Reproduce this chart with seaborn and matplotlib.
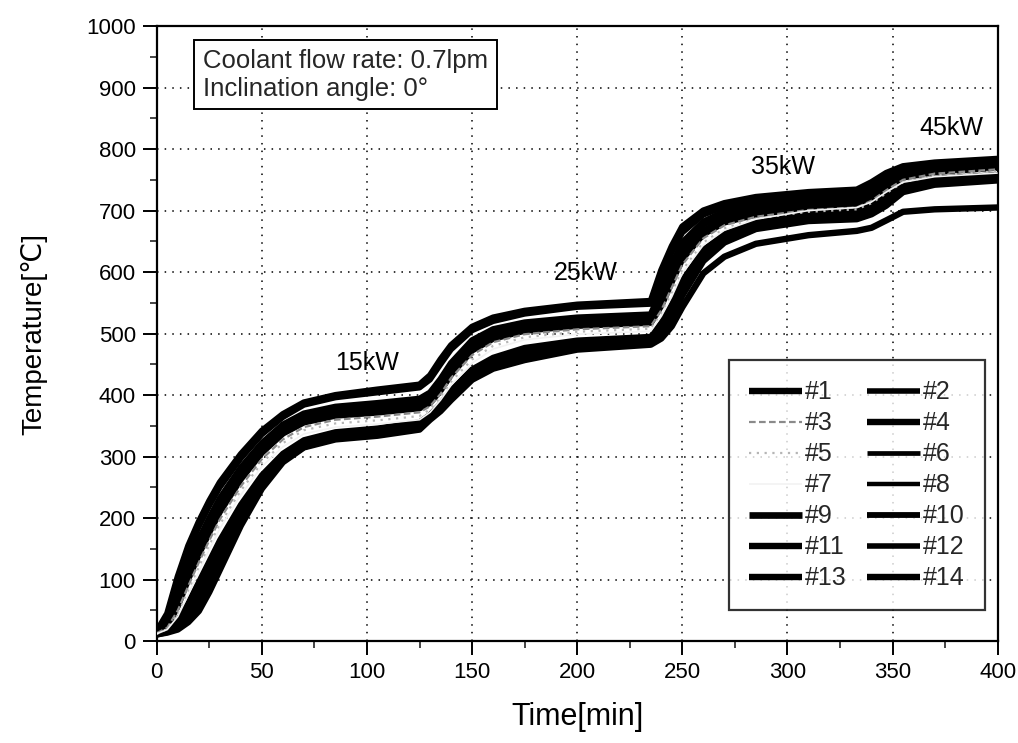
import numpy as np
import pandas as pd
import matplotlib
matplotlib.use("Agg")
import matplotlib.pyplot as plt
import seaborn as sns

# ---------------- data ----------------
time_min = [0, 5, 10, 15, 20, 25, 30, 40, 50, 60, 70, 85, 105,
            125, 130, 135, 140, 150, 160, 175, 200, 235,
            240, 245, 250, 260, 270, 285, 310, 333,
            340, 347, 355, 370, 400]

sensor_names = ["#1", "#2", "#3", "#4", "#5", "#6", "#7",
                "#8", "#9", "#10", "#11", "#12", "#13", "#14"]

t01 = [16, 45, 105, 155, 194, 228, 258, 304, 342, 369, 388, 400, 409,
       417, 432, 458, 481, 511, 526, 537, 547, 553,
       603, 642, 674, 700, 712, 722, 730, 734, 746, 761, 772, 778, 784]
t02 = [15, 40, 95, 145, 186, 220, 250, 297, 336, 364, 384, 396, 404,
       412, 425, 450, 474, 505, 520, 532, 543, 548,
       590, 632, 664, 693, 706, 716, 725, 729, 742, 757, 769, 776, 782]
t03 = [13, 22, 50, 90, 128, 164, 198, 252, 296, 328, 348, 360, 365,
       372, 382, 402, 428, 465, 486, 499, 507, 512,
       538, 575, 612, 655, 676, 690, 701, 705, 716, 733, 750, 760, 767]
t04 = [14, 32, 78, 125, 165, 200, 232, 282, 322, 352, 370, 381, 387,
       394, 404, 426, 452, 489, 507, 518, 526, 531,
       570, 612, 648, 682, 698, 709, 718, 722, 735, 752, 766, 773, 779]
t05 = [12, 20, 44, 82, 120, 156, 190, 245, 290, 322, 343, 354, 359,
       366, 377, 397, 422, 458, 480, 494, 503, 508,
       532, 566, 603, 648, 671, 687, 698, 702, 712, 728, 746, 757, 764]
t06 = [14, 30, 72, 118, 158, 194, 226, 277, 318, 348, 366, 377, 382,
       389, 398, 420, 446, 484, 502, 514, 521, 526,
       562, 604, 640, 676, 693, 704, 713, 717, 730, 748, 762, 770, 776]
t07 = [12, 19, 40, 76, 113, 149, 183, 238, 284, 316, 337, 348, 353,
       360, 372, 392, 416, 452, 475, 490, 499, 504,
       528, 560, 598, 644, 668, 686, 700, 705, 714, 730, 746, 755, 761]
t08 = [13, 27, 65, 110, 150, 186, 218, 270, 312, 343, 361, 372, 377,
       384, 393, 414, 440, 479, 497, 510, 517, 522,
       553, 594, 631, 669, 687, 699, 708, 712, 725, 743, 758, 767, 773]
t09 = [13, 25, 58, 102, 142, 178, 211, 264, 307, 338, 356, 367, 372,
       379, 388, 408, 434, 473, 492, 505, 513, 518,
       546, 585, 622, 662, 681, 694, 704, 708, 720, 738, 754, 763, 770]
t10 = [12, 18, 34, 62, 96, 130, 164, 222, 270, 305, 327, 340, 346,
       356, 368, 386, 408, 442, 461, 477, 489, 495,
       518, 548, 586, 636, 662, 681, 694, 699, 708, 724, 742, 752, 758]
t11 = [12, 17, 30, 54, 85, 118, 152, 212, 262, 299, 322, 336, 342,
       352, 366, 383, 404, 438, 457, 474, 485, 492,
       512, 540, 578, 630, 657, 677, 690, 694, 703, 718, 738, 748, 755]
t12 = [12, 16, 26, 46, 74, 106, 140, 203, 256, 295, 318, 332, 339,
       349, 364, 380, 400, 434, 453, 470, 481, 489,
       506, 532, 570, 624, 652, 673, 686, 690, 698, 713, 734, 745, 752]
t13 = [11, 15, 23, 40, 62, 94, 128, 196, 252, 293, 316, 330, 336,
       347, 362, 377, 396, 430, 449, 466, 478, 486,
       500, 524, 562, 618, 648, 670, 683, 686, 694, 708, 730, 742, 749]
t14 = [11, 14, 19, 31, 49, 80, 116, 188, 248, 291, 315, 328, 334,
       344, 360, 374, 392, 425, 443, 457, 474, 482,
       492, 512, 543, 598, 625, 646, 660, 667, 672, 684, 698, 702, 705]

series = [t01, t02, t03, t04, t05, t06, t07, t08, t09, t10, t11, t12, t13, t14]

power_labels = ["15kW", "25kW", "35kW", "45kW"]
power_label_x = [100, 204, 298, 378]
power_label_y = [452, 598, 771, 834]

# ---------------- styles ----------------
line_colors = {"#1": "black", "#2": "black", "#3": "#8a8a8a", "#4": "black",
               "#5": "#b5b5b5", "#6": "black", "#7": "#f2f2f2", "#8": "black",
               "#9": "black", "#10": "black", "#11": "black", "#12": "black",
               "#13": "black", "#14": "black"}
line_widths = {"#1": 4.6, "#2": 4.0, "#3": 1.6, "#4": 4.6, "#5": 1.6,
               "#6": 3.4, "#7": 1.2, "#8": 3.2, "#9": 4.8, "#10": 4.2,
               "#11": 4.6, "#12": 4.0, "#13": 4.6, "#14": 4.6}
line_dashes = {n: "" for n in sensor_names}
line_dashes["#3"] = (3, 1.5)
line_dashes["#5"] = (1, 2.5)

rows = []
for name, vals in zip(sensor_names, series):
    for t, v in zip(time_min, vals):
        rows.append({"Time": t, "Temp": v, "Sensor": name})
df = pd.DataFrame(rows)

sns.set_theme(style="white")
plt.rcParams["font.family"] = ["Liberation Sans", "DejaVu Sans"]

fig = plt.figure(figsize=(10.18, 7.43), dpi=100)
ax = fig.add_axes([0.154, 0.137, 0.826, 0.828])

sns.lineplot(data=df, x="Time", y="Temp", hue="Sensor", style="Sensor",
             size="Sensor", hue_order=sensor_names, style_order=sensor_names,
             size_order=sensor_names, palette=line_colors, dashes=line_dashes,
             sizes=line_widths, estimator=None, sort=False, legend=False, ax=ax)

lines = list(ax.get_lines())[:len(sensor_names)]
for ln, name in zip(lines, sensor_names):
    ln.set_solid_capstyle("butt")
    ln.set_solid_joinstyle("round")
    ln.set_zorder(3 if name in ("#3", "#5", "#7") else 2)

ax.set_xlim(0, 400)
ax.set_ylim(0, 1000)
ax.set_xticks(np.arange(0, 401, 50))
ax.set_yticks(np.arange(0, 1001, 100))
ax.set_xticks(np.arange(0, 401, 25), minor=True)
ax.set_yticks(np.arange(0, 1001, 50), minor=True)
ax.tick_params(axis="both", which="major", direction="out", length=10, width=1.4,
               labelsize=16, colors="black", bottom=True, left=True, pad=5)
ax.tick_params(axis="both", which="minor", direction="out", length=5, width=1.2,
               bottom=True, left=True)
ax.grid(True, which="major", color="black", linestyle=(0, (1, 4)), linewidth=1.1)
for sp in ax.spines.values():
    sp.set_color("black")
    sp.set_linewidth(1.6)

ax.set_xlabel("Time[min]", fontsize=22, labelpad=14, color="black")
ax.set_ylabel("Temperature[℃]", fontsize=20, labelpad=28, color="black")

for lab, x, y in zip(power_labels, power_label_x, power_label_y):
    ax.text(x, y, lab, fontsize=18, ha="center", va="center", color="black", zorder=5)

ax.text(22, 921, "Coolant flow rate: 0.7lpm\nInclination angle: 0°",
        fontsize=18.5, ha="left", va="center", linespacing=1.2, zorder=6,
        bbox=dict(boxstyle="square,pad=0.35", fc="white", ec="black", lw=1.4))

# legend filled row by row (#1 #2 / #3 #4 / ...)
order = [0, 2, 4, 6, 8, 10, 12, 1, 3, 5, 7, 9, 11, 13]
leg = ax.legend([lines[i] for i in order], [sensor_names[i] for i in order],
                ncol=2, loc="lower right", bbox_to_anchor=(0.985, 0.05),
                fontsize=18, frameon=True, fancybox=False, edgecolor="black",
                handlelength=2.1, handletextpad=0.15, columnspacing=0.8,
                labelspacing=0.28, borderpad=0.8, borderaxespad=0.0)
leg.get_frame().set_linewidth(1.6)
leg.set_zorder(7)

fig.savefig("out.png", dpi=100)
